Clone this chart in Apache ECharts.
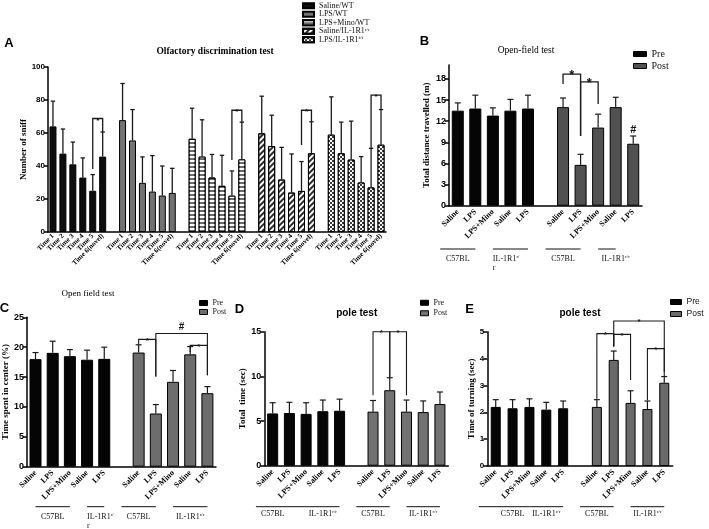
<!DOCTYPE html>
<html><head><meta charset="utf-8">
<script src="https://cdn.jsdelivr.net/npm/echarts@6/dist/echarts.min.js"></script>
<style>html,body{margin:0;padding:0;background:#fff}#c{width:709px;height:529px}</style>
</head><body><div id="c"></div>
<script>
// ================= DATA =================
// Panel A – Olfactory discrimination test (mean, and upper end of error bar)
const timeLabels = ['Time 1','Time 2','Time 3','Time 4','Time 5','Time 6(novel)'];
const groupNamesA = ['Saline/WT','LPS/WT','LPS+Mino/WT','Saline/IL-1R1^r/r','LPS/IL-1R1^f/f'];
const salineWT    = [64, 47.5, 41, 33, 25, 45.7];
const salineWTErr = [79.3, 62.4, 54.5, 44.9, 34.8, 60.6];
const lpsWT       = [67.8, 55.5, 29.8, 24.5, 22.1, 23.7];
const lpsWTErr    = [90, 74.2, 45.5, 46.3, 40, 38.6];
const minoWT      = [56.5, 45.7, 33, 28, 22, 44];
const minoWTErr   = [75, 68, 47, 46.5, 37, 66.6];
const salineIL    = [59.8, 52.1, 31.8, 23.9, 24.9, 47.7];
const salineILErr = [82.3, 70.8, 51.3, 47.3, 42.7, 66.8];
const lpsIL       = [59, 47.7, 43.9, 30, 27, 52.9];
const lpsILErr    = [81.9, 66.6, 67.2, 45.7, 50.7, 74.2];

// Panels B–E – conditions
const condLabels = ['Saline','LPS','LPS+Mino','Saline','LPS'];
const strainLabelsWrapped = ['C57BL','IL-1R1^r/\nr','C57BL','IL-1R1^r/r'];
const strainLabels = ['C57BL','IL-1R1^r/r','C57BL','IL-1R1^r/r'];
const legendPP = ['Pre','Post'];

// B – Total distance travelled (m)
const preB = [13.5, 13.8, 12.8, 13.5, 13.8];
const preBErr = [14.6, 15.7, 13.9, 15.1, 15.7];
const postB = [14.0, 5.8, 11.1, 14.0, 8.8];
const postBErr = [15.3, 7.3, 13.0, 15.4, 9.9];
const yTicksB = [0, 3, 6, 9, 12, 15, 18];

// C – Time spent in center (%)
const preC = [18, 19.05, 18.5, 17.9, 18.05];
const preCErr = [19.1, 21, 19.6, 19.5, 20];
const postC = [19.1, 8.9, 14.2, 18.8, 12.3];
const postCErr = [20.4, 10.4, 16.1, 20.1, 13.4];

// D – Total time (sec)
const preD = [5.85, 5.9, 5.8, 6.1, 6.15];
const preDErr = [7.05, 7.1, 7.05, 7.35, 7.45];
const postD = [6.05, 8.45, 6.05, 6.0, 6.9];
const postDErr = [7.3, 9.85, 7.35, 7.25, 8.25];

// E – Time of turning (sec)
const preE = [2.2, 2.15, 2.2, 2.1, 2.15];
const preEErr = [2.47, 2.47, 2.5, 2.37, 2.42];
const postE = [2.2, 3.95, 2.35, 2.12, 3.1];
const postEErr = [2.47, 4.28, 2.8, 2.42, 3.33];

// ================= LAYOUT =================
const SERIF = '"Liberation Serif","Times New Roman",serif';
const SANS = '"Liberation Sans",Arial,sans-serif';

// brackets: [fromCat, toCat, topY, leftLegEndY, rightLegEndY, mark]
const bracketsA = [[4,5,68.8,38.2,60.6,'*'],[18,19,73.8,43.7,66.6,'*'],[25,26,73.8,52.7,66.8,'*'],[32,33,82.9,50.7,74.2,'*']];
const bracketsB = [[6,7,18.7,17.3,9.9,'*'],[7.35,8,17.6,9.9,14.45,'*']];
const bracketsC = [[6,7,21.3,20.5,15.1,'*'],[7.12,10.1,22.3,15.1,15.3,'#'],[9,9.95,20.3,19.2,15.3,'*']];
const bracketsD = [[6,6.8,15,7.9,9.9,'*'],[6.8,7.75,15,9.9,7.9,'*']];
const bracketsE = [[6,7,4.93,2.5,4.45,'*'],[7.14,8.1,4.9,4.45,3.2,'*'],[7,10.14,5.4,4.45,3.5,'*'],[9,10,4.37,2.45,3.35,'*']];
// group-label spans: [lineStart, lineEnd, textX, align]
const spansB = [[-1.05,1.45,0.17,'center'],[2.22,3.73,1.99,'left'],[4.53,7.15,5.64,'center'],[8.0,9.47,9.0,'center']];
const spansC = [[-0.41,2.02,0.85,'center'],[2.7,4.44,2.5,'left'],[4.92,7.44,6.38,'center'],[8.22,9.67,8.88,'center']];
const spansD = [[-0.89,1.63,0.44,'center'],[1.93,3.73,2.83,'center'],[4.82,7.41,6.12,'center'],[8.21,9.7,9.0,'center']];
const spansE = [[-0.83,1.93,0.65,'center'],[2.08,3.86,3.03,'center'],[4.81,7.48,6.09,'center'],[8.27,9.79,9.1,'center']];

// ================= BUILD =================
const grids=[], xAxes=[], yAxes=[], series=[], legends=[], graphics=[];

function richify(t){ return t.replace(/\^([^\n]*)/, '{s|$1}'); }
const supRich = {s:{fontSize:5, lineHeight:5, verticalAlign:'top', fontFamily:SERIF}};

function addPanel(cfg, cats){
  const i = grids.length;
  grids.push(cfg.grid);
  xAxes.push({type:'category', gridIndex:i, data:cats, axisTick:{show:false},
    axisLine:{lineStyle:{color:'#000', width:1.5}},
    axisLabel:{interval:0, rotate:45, margin:cfg.xMargin, fontFamily:SERIF, fontWeight:'bold', fontSize:cfg.xFont, color:'#000'}});
  const y = {type:'value', gridIndex:i, min:0, max:cfg.yMax, interval:cfg.yInt,
    name:cfg.yName, nameLocation:'middle', nameGap:cfg.nameGap,
    nameTextStyle:{fontFamily:SERIF, fontWeight:'bold', fontSize:9, color:'#000'},
    axisLine:{show:true, lineStyle:{color:'#000', width:1.5}},
    axisTick:{show:true, length:4, lineStyle:{width:1.5, color:'#000'}},
    axisLabel:{fontFamily:SANS, fontWeight:'bold', fontSize:cfg.yFont, color:'#000', margin:3},
    splitLine:{show:false}};
  if (cfg.customTicks){ y.axisTick.customValues = cfg.customTicks; y.axisLabel.customValues = cfg.customTicks; }
  yAxes.push(y);
  return i;
}

function errSeries(ax, data, cap, lw){
  return {type:'custom', xAxisIndex:ax, yAxisIndex:ax, data:data, z:3, silent:true, clip:false,
    renderItem:function(p, api){
      const x=api.value(0), a=api.coord([x, api.value(1)]), b=api.coord([x, api.value(2)]);
      return {type:'group', children:[
        {type:'line', shape:{x1:a[0],y1:a[1],x2:b[0],y2:b[1]}, style:{stroke:'#1a1a1a', lineWidth:lw}},
        {type:'line', shape:{x1:b[0]-cap,y1:b[1],x2:b[0]+cap,y2:b[1]}, style:{stroke:'#1a1a1a', lineWidth:lw}}]};
    }};
}

function bracketSeries(ax, specs, lw, fonts){
  return {type:'custom', xAxisIndex:ax, yAxisIndex:ax, data:specs.map(s=>[s[0], s[2]]), z:4, silent:true, clip:false,
    renderItem:function(p, api){
      const s = specs[p.dataIndex];
      const l0=api.coord([s[0], s[3]]), l1=api.coord([s[0], s[2]]), r1=api.coord([s[1], s[2]]), r0=api.coord([s[1], s[4]]);
      const f = fonts[s[5]];
      const kids = [{type:'text', x:(l1[0]+r1[0])/2, y:l1[1]+f.dy, style:{text:s[5], align:'center', verticalAlign:'bottom', fontSize:f.size, fontWeight:'bold', fontFamily:SANS, fill:'#111'}}];
      if (lw>0) kids.push({type:'polyline', shape:{points:[l0,l1,r1,r0]}, style:{stroke:'#1a1a1a', lineWidth:lw, fill:null}});
      return {type:'group', children:kids};
    }};
}

function groupLabelSeries(ax, spans, labels, lineOff, textOff){
  return {type:'custom', xAxisIndex:ax, yAxisIndex:ax, data:spans.map(s=>[s[0], 0]), z:4, silent:true, clip:false,
    renderItem:function(p, api){
      const s = spans[p.dataIndex];
      const y0 = api.coord([0,0])[1];
      const xa = api.coord([s[0],0])[0], xb = api.coord([s[1],0])[0], xt = api.coord([s[2],0])[0];
      return {type:'group', children:[
        {type:'line', shape:{x1:xa,y1:y0+lineOff,x2:xb,y2:y0+lineOff}, style:{stroke:'#111', lineWidth:1}},
        {type:'text', x:xt, y:y0+textOff, style:{text:richify(labels[p.dataIndex]), rich:supRich, align:s[3], verticalAlign:'top', fontSize:8, lineHeight:9, fontFamily:SERIF, fill:'#111'}}]};
    }};
}

// ---------- Panel A ----------
const catsA = [];
const meansA = [salineWT, lpsWT, minoWT, salineIL, lpsIL];
const errsA = [salineWTErr, lpsWTErr, minoWTErr, salineILErr, lpsILErr];
meansA.forEach((g, gi)=>{ timeLabels.forEach(t=>catsA.push(t)); if (gi<meansA.length-1) catsA.push(''); });
const axA = addPanel({grid:{left:48, top:67, width:338, height:165}, yMax:100, yInt:20, yName:'Number of sniff', nameGap:20, yFont:8, xFont:7, xMargin:3}, catsA);
const stylesA = [
  {color:'#0d0d0d', borderColor:'#000', borderWidth:1},
  {color:'#727272', borderColor:'#000', borderWidth:1},
  {color:'#6a6a6a', borderColor:'#000', borderWidth:1, decal:{symbol:'rect', symbolSize:1, dashArrayX:[1,0], dashArrayY:[1.6,1.2], color:'#ffffff', rotation:0}},
  {color:'#ffffff', borderColor:'#000', borderWidth:1, decal:{symbol:'rect', symbolSize:1, dashArrayX:[1,0], dashArrayY:[1.6,1.6], color:'#2a2a2a', rotation:-Math.PI/4}},
  {color:'#3c3c3c', borderColor:'#000', borderWidth:1, decal:{symbol:'rect', symbolSize:1, dashArrayX:[[1.5,1.5],[0,1.5,1.5,0]], dashArrayY:[1.5,0], color:'#ffffff', rotation:0}}
];
const errDataA = [];
meansA.forEach((g, gi)=>{
  const d = catsA.map(()=> '-');
  g.forEach((v, t)=>{ d[gi*7+t] = v; errDataA.push([gi*7+t, v, errsA[gi][t]]); });
  series.push({type:'bar', name:groupNamesA[gi], xAxisIndex:axA, yAxisIndex:axA, data:d, barWidth:7, barGap:'-100%', itemStyle:stylesA[gi], z:2});
});
series.push(errSeries(axA, errDataA, 2.2, 1.3));
series.push(bracketSeries(axA, bracketsA, 1.3, {'*':{size:8, dy:6}}));
legends.push({data:groupNamesA, orient:'vertical', left:302, top:1.5, padding:0, itemWidth:11, itemHeight:5, itemGap:0, icon:'rect', selectedMode:false,
  formatter:richify, textStyle:{fontFamily:SERIF, fontSize:8, lineHeight:8.5, color:'#111', rich:supRich}});

// ---------- Panels B–E ----------
const catsPP = condLabels.concat([''], condLabels);
function ppPanel(cfg, pre, preErr, post, postErr, brackets, spans, labels, postColor, markFonts, legendCfg){
  const ax = addPanel(cfg, catsPP);
  const preData = catsPP.map((c,i)=> i<5 ? pre[i] : '-');
  const postData = catsPP.map((c,i)=> i>5 ? post[i-6] : '-');
  series.push({type:'bar', name:legendPP[0], xAxisIndex:ax, yAxisIndex:ax, data:preData, barWidth:cfg.barW, barGap:'-100%', itemStyle:{color:'#050505', borderColor:'#000', borderWidth:1}, z:2});
  series.push({type:'bar', name:legendPP[1], xAxisIndex:ax, yAxisIndex:ax, data:postData, barWidth:cfg.barW, barGap:'-100%', itemStyle:{color:postColor, borderColor:'#000', borderWidth:1}, z:2});
  const ed = [];
  pre.forEach((v,i)=>ed.push([i, v, preErr[i]]));
  post.forEach((v,i)=>ed.push([i+6, v, postErr[i]]));
  series.push(errSeries(ax, ed, cfg.cap, 1.2));
  series.push(bracketSeries(ax, brackets, cfg.bw, markFonts));
  series.push(groupLabelSeries(ax, spans, labels, cfg.lineOff, cfg.textOff));
  legends.push(Object.assign({data:[{name:legendPP[0], itemStyle:{color:'#050505', borderColor:'#000', borderWidth:1}}, {name:legendPP[1], itemStyle:{color:postColor, borderColor:'#000', borderWidth:1}}],
    orient:'vertical', icon:'rect', itemGap:0, padding:0, selectedMode:false}, legendCfg));
  return ax;
}

const axB = ppPanel({grid:{left:449, top:64.9, width:193, height:140.8}, yMax:20, yInt:3, customTicks:yTicksB, yName:'Total distance travelled (m)', nameGap:18, yFont:9, xFont:8, xMargin:5, barW:12, cap:3, bw:1.3, lineOff:43.3, textOff:48.6},
  preB, preBErr, postB, postBErr, bracketsB, spansB, strainLabelsWrapped, '#515151', {'*':{size:13, dy:8}},
  {left:633, top:48, itemWidth:13, itemHeight:5, textStyle:{fontFamily:SERIF, fontSize:10, lineHeight:12, color:'#111'}});
// '#' over LPS (IL-1R1) in B
series.push(bracketSeries(axB, [[10,10,postBErr[4],postBErr[4],postBErr[4],'#']], 0, {'#':{size:11, dy:-1}}));

ppPanel({grid:{left:26.7, top:317.3, width:189.3, height:149.4}, yMax:25, yInt:5, yName:'Time spent in center (%)', nameGap:16.5, yFont:9, xFont:8, xMargin:5, barW:12, cap:3, bw:1.1, lineOff:40, textOff:45.3},
  preC, preCErr, postC, postCErr, bracketsC, spansC, strainLabelsWrapped, '#6d6d6d', {'*':{size:8, dy:5}, '#':{size:10, dy:-1}},
  {left:199, top:298.5, itemWidth:8, itemHeight:5, textStyle:{fontFamily:SERIF, fontSize:8, lineHeight:9, color:'#111'}});

ppPanel({grid:{left:264.3, top:331.7, width:184, height:134}, yMax:15, yInt:5, yName:'Total  time (sec)', nameGap:12, yFont:9, xFont:8, xMargin:5, barW:11, cap:3, bw:1.1, lineOff:41, textOff:43.3},
  preD, preDErr, postD, postDErr, bracketsD, spansD, strainLabels, '#727272', {'*':{size:8, dy:5}},
  {left:420, top:297.5, itemWidth:8, itemHeight:5, textStyle:{fontFamily:SERIF, fontSize:8, lineHeight:10.5, color:'#111'}});

ppPanel({grid:{left:487.3, top:331.7, width:185.4, height:134.3}, yMax:5, yInt:1, yName:'Time of turning (sec)', nameGap:10, yFont:8, xFont:8, xMargin:5, barW:10, cap:3, bw:1.1, lineOff:40.7, textOff:43},
  preE, preEErr, postE, postEErr, bracketsE, spansE, strainLabels, '#6a6a6a', {'*':{size:8, dy:5}},
  {left:670, top:296, itemWidth:11, itemHeight:5, textStyle:{fontFamily:SANS, fontSize:8.5, lineHeight:12, color:'#111'}});

// ---------- titles & panel letters ----------
function txt(x, y, text, size, family, weight){
  graphics.push({type:'text', x:x, y:y, silent:true, style:{text:text, align:'center', verticalAlign:'middle', fontSize:size, fontFamily:family, fontWeight:weight, fill:'#000'}});
}
txt(215, 51.5, 'Olfactory discrimination test', 9.5, SERIF, 'bold');
txt(526, 50.5, 'Open-field test', 9.5, SERIF, 'normal');
txt(88, 294, 'Open field test', 9, SERIF, 'normal');
txt(356.7, 313, 'pole test', 10, SANS, 'bold');
txt(580, 313, 'pole test', 10, SANS, 'bold');
txt(9, 43, 'A', 13, SANS, 'bold');
txt(424.5, 41, 'B', 13, SANS, 'bold');
txt(4.5, 308, 'C', 13, SANS, 'bold');
txt(239.5, 309, 'D', 13, SANS, 'bold');
txt(469.5, 309, 'E', 13, SANS, 'bold');

const chart = echarts.init(document.getElementById('c'));
chart.setOption({
  animation:false, backgroundColor:'#fff',
  grid:grids, xAxis:xAxes, yAxis:yAxes, series:series, legend:legends, graphic:graphics
});
</script>
</body></html>
